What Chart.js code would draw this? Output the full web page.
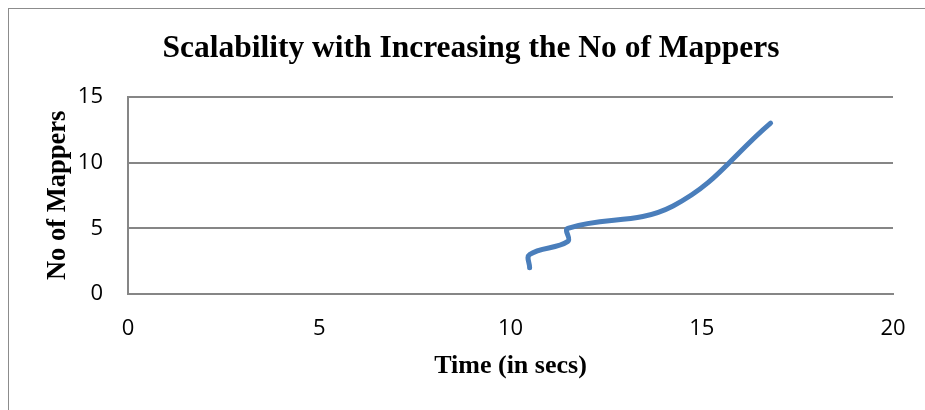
<!DOCTYPE html>
<html>
<head>
<meta charset="utf-8">
<script src="https://cdn.jsdelivr.net/npm/chart.js@4"></script>
<style>
  html, body { margin: 0; padding: 0; background: #fff; overflow: hidden; }
  #frame { position: absolute; left: 8px; top: 8px; width: 1000px; height: 1000px; border: 1px solid #8c8c8c; }
  #wrap { position: absolute; left: 0; top: 0; width: 942px; height: 410px; }
</style>
</head>
<body>
<div id="frame"></div>
<div id="wrap"><canvas id="chartCanva"></canvas></div>
<script>
    // values
    let timeSecs = [10.5, 10.5, 11.5, 11.5, 14.25, 16.8]
    let mappers = [2, 3, 4, 5, 6.7, 13]
    let xTicks = [0, 5, 10, 15, 20]
    let yTicks = [0, 5, 10, 15]

    const points = timeSecs.map((t, i) => ({ x: t, y: mappers[i] }))

    const serif = "'Liberation Serif', 'Times New Roman', serif"
    const sans = "'Open Sans', 'Noto Sans', sans-serif"
    const gridColor = '#868686'

    const data = {
        datasets: [{
            label: 'No of Mappers',
            data: points,
            showLine: true,
            borderColor: '#4a7ebb',
            borderWidth: 5,
            borderCapStyle: 'round',
            borderJoinStyle: 'round',
            tension: 0.4,
            pointRadius: 0,
            pointHoverRadius: 0,
            fill: false
        }]
    };

    const config = {
        type: 'scatter',
        data: data,
        options: {
            responsive: false,
            animation: false,
            // left padding = right padding so the title centres like the reference
            layout: { padding: { left: 49, right: 49, top: 0, bottom: 0 } },
            plugins: {
                legend: { display: false },
                tooltip: { enabled: false },
                title: {
                    display: true,
                    text: 'Scalability with Increasing the No of Mappers',
                    color: '#000',
                    font: { family: serif, size: 31.5, weight: 'bold' },
                    padding: { top: 30, bottom: 29 }
                }
            },
            scales: {
                x: {
                    type: 'linear',
                    min: 0,
                    max: 20,
                    afterFit: (scale) => { scale.height = 116 },
                    afterBuildTicks: (scale) => { scale.ticks = xTicks.map(v => ({ value: v })) },
                    grid: { display: false, drawTicks: false },
                    border: { display: true, color: gridColor, width: 2 },
                    ticks: { color: '#000', padding: 22, font: { family: sans, size: 22 } },
                    title: {
                        display: true,
                        text: 'Time (in secs)',
                        color: '#000',
                        font: { family: serif, size: 26, weight: 'bold' },
                        padding: { top: 0, bottom: 28 }
                    }
                },
                y: {
                    type: 'linear',
                    min: 0,
                    max: 15,
                    afterFit: (scale) => { scale.width = 79 },
                    afterBuildTicks: (scale) => { scale.ticks = yTicks.map(v => ({ value: v })) },
                    grid: { color: gridColor, lineWidth: 2, drawTicks: false },
                    border: { display: true, color: gridColor, width: 2 },
                    ticks: { color: '#000', padding: 25, font: { family: sans, size: 22 } },
                    title: {
                        display: true,
                        text: 'No of Mappers',
                        color: '#000',
                        font: { family: serif, size: 26.5, weight: 'bold' },
                        padding: { top: -6.5, bottom: 0 }
                    }
                }
            }
        }
    };

    const ctx = document.getElementById('chartCanva')
    ctx.width = 942
    ctx.height = 410
    const myChart = new Chart(ctx, config)
</script>
</body>
</html>
